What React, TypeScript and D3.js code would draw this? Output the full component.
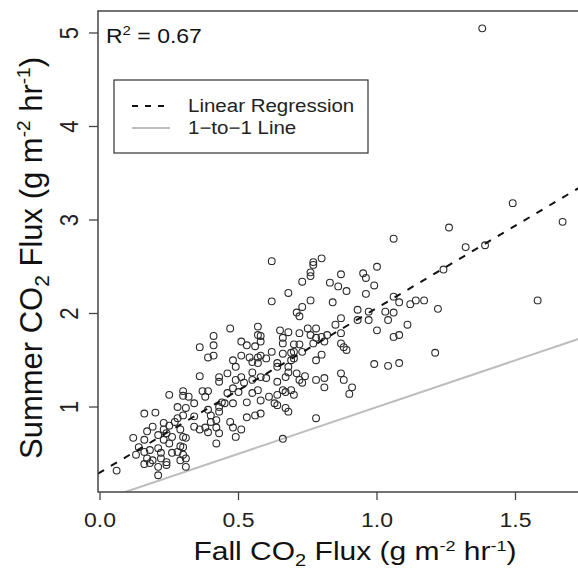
import React, { useEffect } from 'react';
import * as d3 from 'd3';

// Fall CO2 flux (x) and summer CO2 flux (y), g m-2 hr-1
const fallFlux = [
  0.36, 0.39, 0.41, 0.36, 0.25, 0.30, 0.30, 0.32, 0.34, 0.37, 0.39, 0.38, 0.28, 0.31, 0.30, 0.16, 0.20, 0.28, 0.27, 0.39,
  0.40, 0.40, 0.34, 0.36, 0.38, 0.39, 0.23, 0.25, 0.23, 0.24, 0.26, 0.23, 0.25, 0.21, 0.19, 0.17, 0.16, 0.29, 0.30, 0.31,
  0.29, 0.30, 0.12, 0.14, 0.13, 0.16, 0.18, 0.17, 0.19, 0.22, 0.21, 0.22, 0.24, 0.26, 0.28, 0.30, 0.29, 0.31, 0.31, 0.16,
  0.18, 0.21, 0.24, 0.06, 0.21, 0.41, 0.51, 0.53, 0.56, 0.58, 0.66, 0.72, 0.77, 0.81, 0.51, 0.54, 0.57, 0.58, 0.60, 0.57,
  0.55, 0.62, 0.66, 0.69, 0.70, 0.73, 0.69, 0.64, 0.64, 0.68, 0.68, 0.70, 0.80, 0.78, 0.48, 0.49, 0.46, 0.43, 0.43, 0.49,
  0.51, 0.52, 0.55, 0.55, 0.58, 0.60, 0.64, 0.67, 0.71, 0.74, 0.72, 0.73, 0.78, 0.81, 0.81, 0.48, 0.50, 0.46, 0.44, 0.43,
  0.43, 0.42, 0.45, 0.48, 0.53, 0.55, 0.57, 0.58, 0.61, 0.64, 0.66, 0.67, 0.69, 0.70, 0.63, 0.64, 0.67, 0.68, 0.53, 0.56,
  0.58, 0.42, 0.43, 0.47, 0.48, 0.51, 0.49, 0.42, 0.78, 0.66, 0.84, 0.93, 0.97, 0.93, 0.97, 1.03, 1.04, 1.06, 1.08, 1.12,
  1.14, 1.17, 1.22, 0.87, 0.85, 0.87, 1.00, 1.11, 1.06, 1.08, 0.87, 0.88, 0.89, 1.21, 0.99, 1.04, 1.08, 0.87, 0.88, 0.91,
  0.90, 0.62, 0.77, 0.77, 0.76, 0.80, 0.76, 0.73, 0.83, 0.68, 0.62, 0.76, 0.73, 0.71, 0.72, 0.47, 0.57, 0.57, 0.58,
  0.65, 0.68, 0.66, 0.72, 0.75, 0.78, 0.76, 0.78, 0.80, 0.82, 0.70, 1.26, 1.06, 1.32, 1.00, 0.87, 0.95, 0.96, 0.99, 1.24,
  0.86, 0.89, 0.96, 1.06, 1.39, 1.49, 1.67, 1.58, 1.38, 0.34, 0.41,
];
const summerFlux = [
  1.64, 1.53, 1.55, 1.33, 1.13, 1.17, 1.12, 1.11, 1.04, 1.17, 1.17, 1.11, 1.00, 0.99, 0.91, 0.93, 0.94, 0.88, 0.84, 0.97,
  0.91, 0.84, 0.79, 0.76, 0.78, 0.73, 0.83, 0.80, 0.76, 0.72, 0.68, 0.65, 0.61, 0.70, 0.79, 0.74, 0.65, 0.76, 0.68, 0.67,
  0.58, 0.57, 0.67, 0.57, 0.49, 0.52, 0.54, 0.45, 0.43, 0.51, 0.56, 0.45, 0.41, 0.51, 0.52, 0.49, 0.43, 0.45, 0.36, 0.39,
  0.40, 0.36, 0.38, 0.32, 0.27, 1.66, 1.70, 1.66, 1.65, 1.70, 1.68, 1.67, 1.68, 1.70, 1.55, 1.53, 1.53, 1.55, 1.52, 1.47,
  1.48, 1.59, 1.57, 1.58, 1.59, 1.59, 1.50, 1.47, 1.43, 1.43, 1.37, 1.52, 1.56, 1.50, 1.50, 1.43, 1.36, 1.32, 1.27, 1.29,
  1.32, 1.26, 1.37, 1.29, 1.32, 1.31, 1.27, 1.32, 1.36, 1.33, 1.29, 1.26, 1.29, 1.31, 1.21, 1.20, 1.16, 1.15, 1.05, 1.00,
  0.95, 0.86, 1.04, 1.04, 1.05, 1.15, 1.18, 1.07, 1.11, 1.13, 1.18, 1.16, 1.18, 1.13, 1.04, 1.02, 0.99, 0.95, 0.89, 0.91,
  0.93, 0.78, 0.72, 0.84, 0.78, 0.76, 0.68, 0.61, 0.88, 0.66, 2.12, 2.04, 2.02, 1.93, 1.93, 2.02, 1.93, 2.01, 2.12, 2.10,
  2.14, 2.14, 2.05, 1.95, 1.88, 1.79, 1.82, 1.88, 1.75, 1.77, 1.68, 1.64, 1.61, 1.58, 1.46, 1.44, 1.47, 1.36, 1.29, 1.21,
  1.14, 2.56, 2.55, 2.52, 2.44, 2.59, 2.40, 2.34, 2.33, 2.22, 2.13, 2.14, 2.07, 2.01, 1.97, 1.84, 1.86, 1.77, 1.76,
  1.82, 1.80, 1.74, 1.79, 1.84, 1.84, 1.77, 1.74, 1.75, 1.77, 1.67, 2.92, 2.80, 2.71, 2.50, 2.42, 2.43, 2.38, 2.30, 2.47,
  2.29, 2.24, 2.21, 2.18, 2.73, 3.18, 2.98, 2.14, 5.05, 0.90, 1.76,
];

const xTicks = [0, 0.5, 1.0, 1.5];
const yTicks = [1, 2, 3, 4, 5];
const regression = { intercept: 0.3, slope: 1.76 };
const rSquaredLabel = '0.67';
const legendLabels = ['Linear Regression', '1\u2212to\u22121 Line'];

const W = 578;
const H = 578;
const plot = { left: 98, top: 11, right: 640, bottom: 492 };
const FONT = "'Liberation Sans', Arial, sans-serif";
const SY = 0.88;

export default function App() {
  useEffect(() => {
    document.body.style.margin = '0';
  }, []);

  const x = d3.scaleLinear().domain([0, 1.5]).range([100, 515.5]);
  const y = d3.scaleLinear().domain([1, 5]).range([407, 33]);

  const xMin = x.invert(plot.left);
  const xMax = x.invert(plot.right);

  const line = d3
    .line<[number, number]>()
    .x((d) => x(d[0]))
    .y((d) => y(d[1]));

  const regPts: [number, number][] = [
    [xMin, regression.intercept + regression.slope * xMin],
    [xMax, regression.intercept + regression.slope * xMax],
  ];
  const oneToOne: [number, number][] = [
    [xMin, xMin],
    [xMax, xMax],
  ];

  const pts = fallFlux.map((v, i) => [v, summerFlux[i]] as [number, number]);

  return (
    <svg width={W} height={H} style={{ position: 'absolute', left: 0, top: 0, background: '#fff' }} fontFamily={FONT}>
      <defs>
        <clipPath id="plotClip">
          <rect x={plot.left} y={plot.top} width={plot.right - plot.left} height={plot.bottom - plot.top} />
        </clipPath>
      </defs>
      <rect x={0} y={0} width={W} height={H} fill="#fff" />

      <g clipPath="url(#plotClip)">
        <path d={line(oneToOne) || ''} stroke="#bdbdbd" strokeWidth={2} fill="none" />
        {pts.map((p, i) => (
          <circle key={i} cx={x(p[0])} cy={y(p[1])} r={3.4} fill="none" stroke="#2a2a2a" strokeWidth={1.1} />
        ))}
        <path d={line(regPts) || ''} stroke="#111" strokeWidth={2} strokeDasharray="7 8" fill="none" />
      </g>

      {/* box */}
      <rect
        x={plot.left}
        y={plot.top}
        width={plot.right - plot.left}
        height={plot.bottom - plot.top}
        fill="none"
        stroke="#444"
        strokeWidth={1.5}
      />

      {/* x ticks */}
      {xTicks.map((t) => (
        <g key={'x' + t}>
          <line x1={x(t)} x2={x(t)} y1={plot.bottom} y2={plot.bottom + 8} stroke="#444" strokeWidth={1.3} />
          <text
            transform={`translate(${x(t)},527) scale(1,${SY})`}
            textAnchor="middle"
            fontSize={23}
            fill="#222"
          >
            {t.toFixed(1)}
          </text>
        </g>
      ))}

      {/* y ticks */}
      {yTicks.map((t) => (
        <g key={'y' + t}>
          <line x1={plot.left - 9} x2={plot.left} y1={y(t)} y2={y(t)} stroke="#444" strokeWidth={1.3} />
          <text
            transform={`translate(78,${y(t)}) scale(1,0.85) rotate(-90)`}
            textAnchor="middle"
            fontSize={26}
            fill="#222"
          >
            {t}
          </text>
        </g>
      ))}

      {/* R squared */}
      <text transform={`translate(106,43) scale(1,${SY})`} fontSize={23} fill="#111">
        R<tspan fontSize={15} dy={-9}>2</tspan>
        <tspan dy={9}> = {rSquaredLabel}</tspan>
      </text>

      {/* legend */}
      <rect x={114} y={80} width={254} height={73} fill="#fff" stroke="#333" strokeWidth={1.2} />
      <line x1={132} x2={170} y1={106} y2={106} stroke="#111" strokeWidth={2} strokeDasharray="6 7" />
      <line x1={132} x2={170} y1={128} y2={128} stroke="#bdbdbd" strokeWidth={2} />
      <text transform={`translate(188,112) scale(1,${SY})`} fontSize={20.5} fill="#222">
        {legendLabels[0]}
      </text>
      <text transform={`translate(188,134) scale(1,${SY})`} fontSize={20.5} fill="#222">
        {legendLabels[1]}
      </text>

      {/* x title */}
      <text transform={`translate(355,560) scale(1,0.86)`} textAnchor="middle" fontSize={30} fill="#111">
        Fall CO<tspan fontSize={20} dy={7}>2</tspan>
        <tspan dy={-7}> Flux (g m</tspan>
        <tspan fontSize={18} dy={-11}>-2</tspan>
        <tspan dy={11}> hr</tspan>
        <tspan fontSize={18} dy={-11}>-1</tspan>
        <tspan dy={11}>)</tspan>
      </text>

      {/* y title */}
      <text transform={`translate(42,258) rotate(-90)`} textAnchor="middle" fontSize={31} fill="#111">
        Summer CO<tspan fontSize={21} dy={7}>2</tspan>
        <tspan dy={-7}> Flux (g m</tspan>
        <tspan fontSize={19} dy={-12}>-2</tspan>
        <tspan dy={12}> hr</tspan>
        <tspan fontSize={19} dy={-12}>-1</tspan>
        <tspan dy={12}>)</tspan>
      </text>
    </svg>
  );
}
